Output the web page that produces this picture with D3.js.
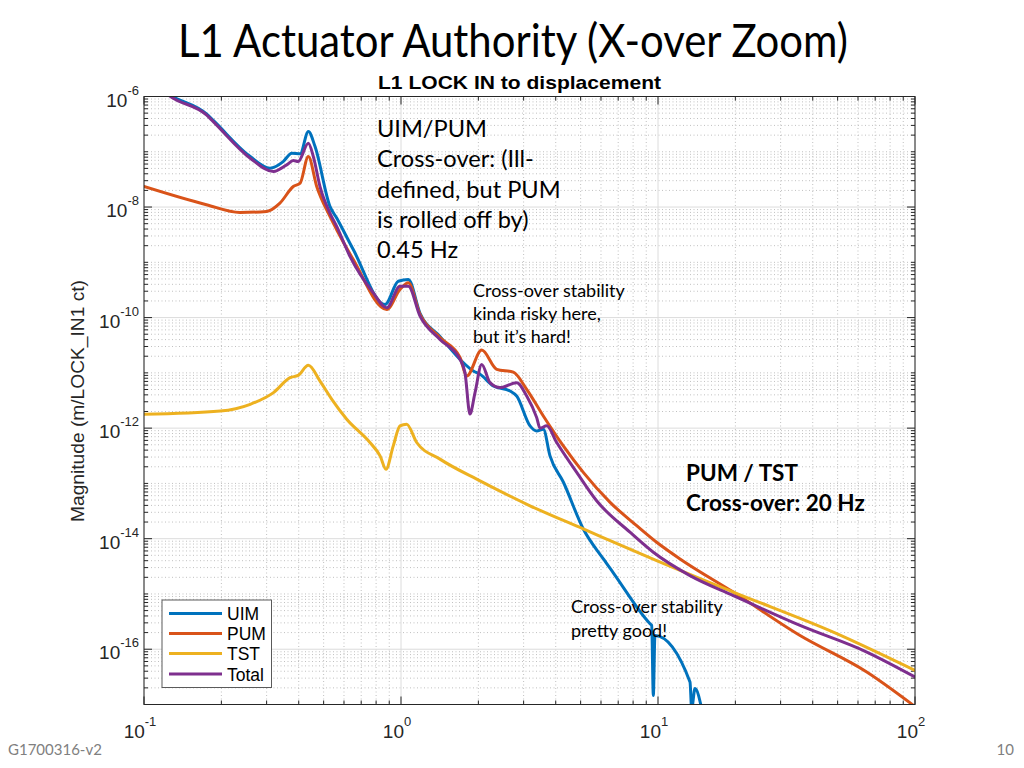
<!DOCTYPE html>
<html><head><meta charset="utf-8">
<script src="https://cdn.jsdelivr.net/npm/d3@7"></script>
<style>body{margin:0;background:#fff;} svg{display:block;}</style>
</head><body>
<svg id="chart" width="1024" height="768"></svg>
<script>
// ---------------- data (frequency in Hz, magnitude in m/ct) ----------------
const uimFreq = [0.119, 0.126, 0.175, 0.186, 0.259, 0.309, 0.348, 0.376, 0.405, 0.436, 0.463, 0.529, 0.562, 0.652, 0.867, 0.976, 1.068, 1.186, 1.418, 1.697, 1.911, 2.030, 2.287, 2.655, 2.819, 3.177, 3.373, 3.579, 3.800, 4.281, 5.12, 6.13, 6.70, 9.31, 9.45, 9.59, 9.73, 13.32, 13.52, 13.93, 14.79];
const uimMag  = [1.26e-6, 1.06e-6, 4.83e-7, 3.69e-7, 8.19e-8, 5.06e-8, 6.65e-8, 9.43e-8, 9.17e-8, 2.32e-7, 1.24e-7, 1.03e-8, 6.33e-9, 1.70e-9, 1.72e-10, 4.54e-10, 4.87e-10, 1.19e-10, 4.56e-11, 1.75e-11, 1.08e-11, 9.40e-12, 5.78e-12, 4.69e-12, 3.81e-12, 1.10e-12, 8.90e-13, 9.55e-13, 3.15e-13, 1.06e-13, 1.50e-14, 4.30e-15, 2.41e-15, 2.89e-16, 2.69e-16, 1.45e-17, 1.77e-16, 2.56e-17, 8.4e-18, 1.94e-17, 8.4e-18];

const pumFreq = [0.1, 0.175, 0.236, 0.300, 0.338, 0.381, 0.405, 0.436, 0.470, 0.529, 0.562, 0.652, 0.880, 0.991, 1.068, 1.186, 1.418, 1.697, 1.801, 2.061, 2.358, 2.735, 3.084, 3.579, 4.281, 5.12, 6.51, 8.26, 9.88, 12.18, 19.63, 35.7, 64.9, 100];
const pumMag  = [2.35e-8, 1.10e-8, 7.99e-9, 8.33e-9, 1.18e-8, 2.35e-8, 2.71e-8, 8.19e-8, 2.35e-8, 6.77e-9, 3.89e-9, 1.12e-9, 1.40e-10, 3.22e-10, 4.25e-10, 1.14e-10, 4.37e-11, 1.91e-11, 8.75e-12, 2.58e-11, 1.16e-11, 1.03e-11, 5.04e-12, 1.66e-12, 4.77e-13, 1.58e-13, 4.54e-14, 1.72e-14, 8.61e-15, 4.30e-15, 1.08e-15, 1.77e-16, 3.88e-17, 9.2e-18];

const tstFreq = [0.1, 0.198, 0.259, 0.319, 0.370, 0.398, 0.436, 0.484, 0.538, 0.615, 0.757, 0.829, 0.874, 0.933, 0.991, 1.052, 1.151, 1.418, 2.030, 3.177, 5.12, 9.88, 19.63, 48.1, 100];
const tstMag  = [1.78e-12, 2.04e-12, 2.70e-12, 4.39e-12, 8.19e-12, 9.02e-12, 1.37e-11, 7.11e-12, 3.32e-12, 1.45e-12, 5.50e-13, 3.15e-13, 1.81e-13, 4.77e-13, 1.10e-12, 1.18e-12, 5.50e-13, 2.75e-13, 1.11e-13, 3.94e-14, 1.50e-14, 4.01e-15, 1.08e-15, 2.04e-16, 4.14e-17];

const totalFreq = [0.119, 0.126, 0.175, 0.186, 0.259, 0.319, 0.359, 0.381, 0.398, 0.436, 0.456, 0.484, 0.529, 0.562, 0.633, 0.780, 0.880, 0.991, 1.068, 1.186, 1.418, 1.697, 1.774, 1.855, 1.941, 2.061, 2.220, 2.429, 2.819, 3.084, 3.373, 3.475, 3.689, 4.035, 4.828, 5.77, 7.78, 9.59, 13.32, 19.63, 35.7, 64.9, 100];
const totalMag  = [1.26e-6, 1.02e-6, 4.64e-7, 3.51e-7, 7.66e-8, 4.39e-8, 5.80e-8, 6.94e-8, 6.65e-8, 1.43e-7, 8.19e-8, 2.35e-8, 7.79e-9, 4.47e-9, 1.28e-9, 2.80e-10, 1.50e-10, 3.69e-10, 3.69e-10, 1.06e-10, 4.02e-11, 1.75e-11, 1.01e-11, 1.8e-12, 4.39e-12, 1.42e-11, 6.65e-12, 5.41e-12, 6.65e-12, 3.81e-12, 1.55e-12, 9.96e-13, 1.10e-12, 5.50e-13, 1.58e-13, 4.85e-14, 1.31e-14, 5.68e-15, 2.15e-15, 9.36e-16, 2.69e-16, 8.90e-17, 3.15e-17];

const seriesNames = ["UIM", "PUM", "TST", "Total"];
const xTickValues = [0.1, 1, 10, 100];
const xTickExponents = ["-1", "0", "1", "2"];
const yTickValues = [1e-6, 1e-8, 1e-10, 1e-12, 1e-14, 1e-16];
const yTickExponents = ["-6", "-8", "-10", "-12", "-14", "-16"];

const slideTitle = "L1 Actuator Authority (X-over Zoom)";
const plotTitle = "L1 LOCK IN to displacement";
const yLabel = "Magnitude (m/LOCK_IN1 ct)";
const note1 = ["UIM/PUM", "Cross-over: (Ill-", "defined, but PUM", "is rolled off by)", "0.45 Hz"];
const note2 = ["Cross-over stability", "kinda risky here,", "but it\u2019s hard!"];
const note3 = ["PUM / TST", "Cross-over: 20 Hz"];
const note4 = ["Cross-over stability", "pretty good!"];
const footerLeft = "G1700316-v2";
const footerRight = "10";

// ---------------- drawing ----------------
const colors = ["#0072BD", "#D95319", "#EDB120", "#7E2F8E"];
const series = [
  {name: seriesNames[0], f: uimFreq, m: uimMag},
  {name: seriesNames[1], f: pumFreq, m: pumMag},
  {name: seriesNames[2], f: tstFreq, m: tstMag},
  {name: seriesNames[3], f: totalFreq, m: totalMag}
];

const svg = d3.select("#chart");
const L = 144, R = 915, T = 96.5, B = 704.5;
const x = d3.scaleLog().domain([0.1, 100]).range([L, R]);
const y = d3.scaleLog().domain([1e-17, 1e-6]).range([B, T]);
const axisColor = "#262626";
const sans = "'Liberation Sans', Arial, sans-serif";
const slideFont = "Lato, 'Open Sans', sans-serif";

// slide title
svg.append("text").attr("x", 178).attr("y", 57).attr("font-family", slideFont)
  .attr("font-size", 46).attr("fill", "#000").attr("textLength", 670)
  .attr("lengthAdjust", "spacingAndGlyphs").text(slideTitle);

// minor values
const xMinor = [];
[0.1, 1, 10].forEach(d => { for (let k = 2; k <= 9; k++) xMinor.push(k * d); });
const yMinor = [];
for (let e = -17; e <= -7; e++) {
  for (let k = 1; k <= 9; k++) {
    const v = k * Math.pow(10, e);
    if (k === 1 && e % 2 === 0) continue;
    yMinor.push(v);
  }
}

const g = svg.append("g");
// minor grid (dotted)
g.selectAll(".xmg").data(xMinor).enter().append("line")
  .attr("x1", d => x(d)).attr("x2", d => x(d)).attr("y1", T).attr("y2", B)
  .attr("stroke", "#c0c0c0").attr("stroke-width", 1).attr("stroke-dasharray", "1,2.5");
g.selectAll(".ymg").data(yMinor).enter().append("line")
  .attr("y1", d => y(d)).attr("y2", d => y(d)).attr("x1", L).attr("x2", R)
  .attr("stroke", "#c0c0c0").attr("stroke-width", 1).attr("stroke-dasharray", "1,2.5");
// major grid
g.selectAll(".xMg").data(xTickValues).enter().append("line")
  .attr("x1", d => x(d)).attr("x2", d => x(d)).attr("y1", T).attr("y2", B)
  .attr("stroke", "#dcdcdc").attr("stroke-width", 1);
g.selectAll(".yMg").data(yTickValues).enter().append("line")
  .attr("y1", d => y(d)).attr("y2", d => y(d)).attr("x1", L).attr("x2", R)
  .attr("stroke", "#dcdcdc").attr("stroke-width", 1);

// ticks (inward, on all four sides)
const tk = svg.append("g").attr("stroke", axisColor).attr("stroke-width", 1);
xTickValues.forEach(v => {
  tk.append("line").attr("x1", x(v)).attr("x2", x(v)).attr("y1", B).attr("y2", B - 8);
  tk.append("line").attr("x1", x(v)).attr("x2", x(v)).attr("y1", T).attr("y2", T + 8);
});
xMinor.forEach(v => {
  tk.append("line").attr("x1", x(v)).attr("x2", x(v)).attr("y1", B).attr("y2", B - 4);
  tk.append("line").attr("x1", x(v)).attr("x2", x(v)).attr("y1", T).attr("y2", T + 4);
});
yTickValues.forEach(v => {
  tk.append("line").attr("y1", y(v)).attr("y2", y(v)).attr("x1", L).attr("x2", L + 8);
  tk.append("line").attr("y1", y(v)).attr("y2", y(v)).attr("x1", R).attr("x2", R - 8);
});
yMinor.forEach(v => {
  tk.append("line").attr("y1", y(v)).attr("y2", y(v)).attr("x1", L).attr("x2", L + 4);
  tk.append("line").attr("y1", y(v)).attr("y2", y(v)).attr("x1", R).attr("x2", R - 4);
});

// curves
svg.append("clipPath").attr("id", "plotclip").append("rect")
  .attr("x", L).attr("y", T).attr("width", R - L).attr("height", B - T);
const line = d3.line().x(d => x(d[0])).y(d => y(d[1])).curve(d3.curveMonotoneX);
const cg = svg.append("g").attr("clip-path", "url(#plotclip)");
series.forEach((s, i) => {
  const pts = s.f.map((f, j) => [f, s.m[j]]);
  cg.append("path").datum(pts).attr("d", line).attr("fill", "none")
    .attr("stroke", colors[i]).attr("stroke-width", 3)
    .attr("stroke-linejoin", "round").attr("stroke-linecap", "round");
});

// axes box
svg.append("rect").attr("x", L).attr("y", T).attr("width", R - L).attr("height", B - T)
  .attr("fill", "none").attr("stroke", axisColor).attr("stroke-width", 1);

// x tick labels
xTickValues.forEach((v, i) => {
  const t = svg.append("text").attr("x", x(v) - 4).attr("y", 738).attr("text-anchor", "middle")
    .attr("font-family", sans).attr("font-size", 19).attr("fill", axisColor);
  t.append("tspan").text("10");
  t.append("tspan").attr("dy", -12).attr("font-size", 13).text(xTickExponents[i]);
});
// y tick labels
yTickValues.forEach((v, i) => {
  const t = svg.append("text").attr("x", 139).attr("y", y(v) + 10).attr("text-anchor", "end")
    .attr("font-family", sans).attr("font-size", 19).attr("fill", axisColor);
  t.append("tspan").text("10");
  t.append("tspan").attr("dy", -12).attr("font-size", 13).text(yTickExponents[i]);
});

// plot title
svg.append("text").attr("x", 519.5).attr("y", 89).attr("text-anchor", "middle")
  .attr("font-family", sans).attr("font-weight", "bold").attr("font-size", 18.5)
  .attr("fill", "#000").attr("textLength", 283).attr("lengthAdjust", "spacingAndGlyphs")
  .text(plotTitle);

// y label
svg.append("text").attr("transform", "translate(84,401) rotate(-90)")
  .attr("text-anchor", "middle").attr("font-family", sans).attr("font-size", 18)
  .attr("fill", axisColor).attr("textLength", 242).attr("lengthAdjust", "spacingAndGlyphs")
  .text(yLabel);

// legend
const lg = svg.append("g");
lg.append("rect").attr("x", 162).attr("y", 600).attr("width", 109.5).attr("height", 87.5)
  .attr("fill", "#fff").attr("stroke", "#5a5a5a").attr("stroke-width", 1);
const legY = [613.5, 633.5, 653.5, 674];
series.forEach((s, i) => {
  lg.append("line").attr("x1", 169).attr("x2", 222).attr("y1", legY[i]).attr("y2", legY[i])
    .attr("stroke", colors[i]).attr("stroke-width", 3);
  lg.append("text").attr("x", 227).attr("y", legY[i] + 6.5).attr("font-family", sans)
    .attr("font-size", 17.5).attr("fill", "#000").text(s.name);
});

// annotations
function block(lines, x0, y0, dy, size, weight) {
  const t = svg.append("text").attr("font-family", slideFont).attr("font-size", size)
    .attr("font-weight", weight || "normal").attr("fill", "#000");
  lines.forEach((ln, i) => t.append("tspan").attr("x", x0).attr("y", y0 + i * dy).text(ln));
}
block(note1, 377, 137, 30.3, 23.6);
block(note2, 473, 297, 23, 18);
block(note3, 686, 481, 29.7, 22.5, "bold");
block(note4, 571, 613, 23.5, 18);

// footer
svg.append("text").attr("x", 8).attr("y", 755).attr("font-family", slideFont)
  .attr("font-size", 15).attr("fill", "#808080").text(footerLeft);
svg.append("text").attr("x", 1014).attr("y", 755).attr("text-anchor", "end").attr("font-family", slideFont)
  .attr("font-size", 15).attr("fill", "#808080").text(footerRight);
</script>
</body></html>
